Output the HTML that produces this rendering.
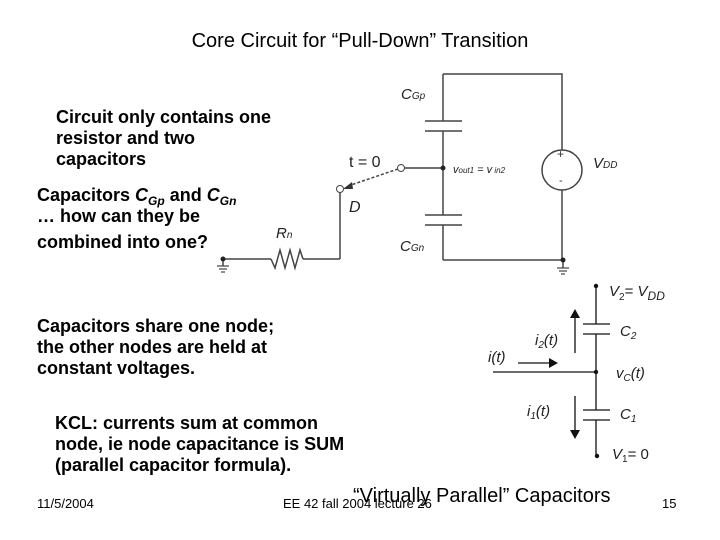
<!DOCTYPE html>
<html><head><meta charset="utf-8"><style>
html,body{margin:0;padding:0;background:#fff;}
svg{display:block;}
</style></head><body>
<svg width="720" height="540" xmlns="http://www.w3.org/2000/svg" font-family="Liberation Sans, sans-serif">
<rect width="720" height="540" fill="#fff"/>
<text x="360" y="47" font-size="20" text-anchor="middle">Core Circuit for “Pull-Down” Transition</text>
<g font-size="18" font-weight="bold">
<text x="56" y="123">Circuit only contains one</text>
<text x="56" y="144">resistor and two</text>
<text x="56" y="165">capacitors</text>
<text x="37" y="201">Capacitors <tspan font-style="italic">C</tspan><tspan font-style="italic" font-size="12" dy="4">Gp</tspan><tspan dy="-4"> and </tspan><tspan font-style="italic">C</tspan><tspan font-style="italic" font-size="12" dy="4">Gn</tspan></text>
<text x="37" y="222">… how can they be</text>
<text x="37" y="248">combined into one?</text>
<text x="37" y="332">Capacitors share one node;</text>
<text x="37" y="353">the other nodes are held at</text>
<text x="37" y="374">constant voltages.</text>
<text x="55" y="429">KCL: currents sum at common</text>
<text x="55" y="450">node, ie node capacitance is SUM</text>
<text x="55" y="471">(parallel capacitor formula).</text>
</g>
<g stroke="#444" stroke-width="1.5" fill="none">
<polyline points="443,74 562,74 562,150"/>
<line x1="562" y1="190" x2="562" y2="260"/>
<line x1="443" y1="74" x2="443" y2="121"/>
<line x1="443" y1="131" x2="443" y2="215"/>
<line x1="443" y1="225" x2="443" y2="260"/>
<line x1="443" y1="260" x2="563" y2="260"/>
<line x1="425" y1="121" x2="462" y2="121"/><line x1="425" y1="131" x2="462" y2="131"/>
<line x1="425" y1="215" x2="462" y2="215"/><line x1="425" y1="225" x2="462" y2="225"/>
<circle cx="562" cy="170" r="20"/>
<line x1="404" y1="168" x2="443" y2="168"/>
<line x1="340" y1="192" x2="340" y2="259"/>
<line x1="340" y1="259" x2="303" y2="259"/>
<polyline points="271,259 275,268 280,250 285,268 290,250 295,268 300,250 303,259"/>
<line x1="223" y1="259" x2="271" y2="259"/>
<line x1="223" y1="259" x2="223" y2="266"/>
<line x1="563" y1="260" x2="563" y2="268"/>
<line x1="398" y1="169" x2="348" y2="186" stroke-dasharray="3,2"/>
</g>
<g stroke="#444" stroke-width="1.2">
<line x1="217" y1="266" x2="229" y2="266"/><line x1="219" y1="269" x2="227" y2="269"/><line x1="221" y1="272" x2="225" y2="272"/>
<line x1="557" y1="268" x2="569" y2="268"/><line x1="559" y1="271" x2="567" y2="271"/><line x1="561" y1="274" x2="565" y2="274"/>
</g>
<polygon points="343,189 352,182 353,189" fill="#333"/>
<circle cx="401" cy="168" r="3.5" fill="#fff" stroke="#444"/>
<circle cx="340" cy="189" r="3.5" fill="#fff" stroke="#444"/>
<circle cx="443" cy="168" r="2.5" fill="#222"/>
<circle cx="223" cy="259" r="2.5" fill="#222"/>
<circle cx="563" cy="260" r="2.5" fill="#222"/>
<g font-size="15" fill="#222" font-style="italic">
<text x="401" y="99">C<tspan font-size="10">Gp</tspan></text>
<text x="349" y="167" font-style="normal" font-size="16">t = 0</text>
<text x="453" y="173" font-size="11">v<tspan font-size="8">out1</tspan> = v<tspan font-size="8"> in2</tspan></text>
<text x="593" y="168">V<tspan font-size="10">DD</tspan></text>
<text x="349" y="212" font-size="16">D</text>
<text x="276" y="238">R<tspan font-size="10">n</tspan></text>
<text x="400" y="251">C<tspan font-size="10">Gn</tspan></text>
</g>
<text x="557" y="158" font-size="12" fill="#333">+</text>
<text x="559" y="184" font-size="11" fill="#333">-</text>
<g stroke="#111" stroke-width="1.3">
<line x1="596" y1="286" x2="596" y2="324"/>
<line x1="596" y1="334" x2="596" y2="410"/>
<line x1="596" y1="420" x2="596" y2="456"/>
<line x1="583" y1="324" x2="610" y2="324"/><line x1="583" y1="334" x2="610" y2="334"/>
<line x1="583" y1="410" x2="610" y2="410"/><line x1="583" y1="420" x2="610" y2="420"/>
<line x1="493" y1="372" x2="596" y2="372"/>
<line x1="518" y1="363" x2="550" y2="363"/>
<line x1="575" y1="353" x2="575" y2="318"/>
<line x1="575" y1="396" x2="575" y2="430"/>
</g>
<polygon points="549,358 558,363 549,368" fill="#111"/>
<polygon points="570,318 575,309 580,318" fill="#111"/>
<polygon points="570,430 575,439 580,430" fill="#111"/>
<circle cx="596" cy="286" r="2.2" fill="#111"/>
<circle cx="596" cy="372" r="2.2" fill="#111"/>
<circle cx="597" cy="456" r="2.2" fill="#111"/>
<g font-size="15" fill="#222">
<text x="609" y="296"><tspan font-style="italic">V</tspan><tspan font-size="10" dy="4">2</tspan><tspan dy="-4">= </tspan><tspan font-style="italic">V</tspan><tspan font-size="12" dy="4" font-style="italic">DD</tspan></text>
<text x="535" y="345" font-style="italic">i<tspan font-size="10" dy="3">2</tspan><tspan dy="-3">(t)</tspan></text>
<text x="620" y="336" font-style="italic">C<tspan font-size="10" dy="3">2</tspan></text>
<text x="488" y="362" font-style="italic">i(t)</text>
<text x="616" y="378" font-style="italic">v<tspan font-size="10" dy="3">C</tspan><tspan dy="-3">(t)</tspan></text>
<text x="527" y="416" font-style="italic">i<tspan font-size="10" dy="3">1</tspan><tspan dy="-3">(t)</tspan></text>
<text x="620" y="419" font-style="italic">C<tspan font-size="10" dy="3">1</tspan></text>
<text x="612" y="459"><tspan font-style="italic">V</tspan><tspan font-size="10" dy="3">1</tspan><tspan dy="-3">= 0</tspan></text>
</g>
<text x="37" y="508" font-size="13">11/5/2004</text>
<text x="283" y="508" font-size="13">EE 42 fall 2004 lecture 26</text>
<text x="353" y="502" font-size="20">“Virtually Parallel” Capacitors</text>
<text x="662" y="508" font-size="13">15</text>
</svg>
</body></html>
